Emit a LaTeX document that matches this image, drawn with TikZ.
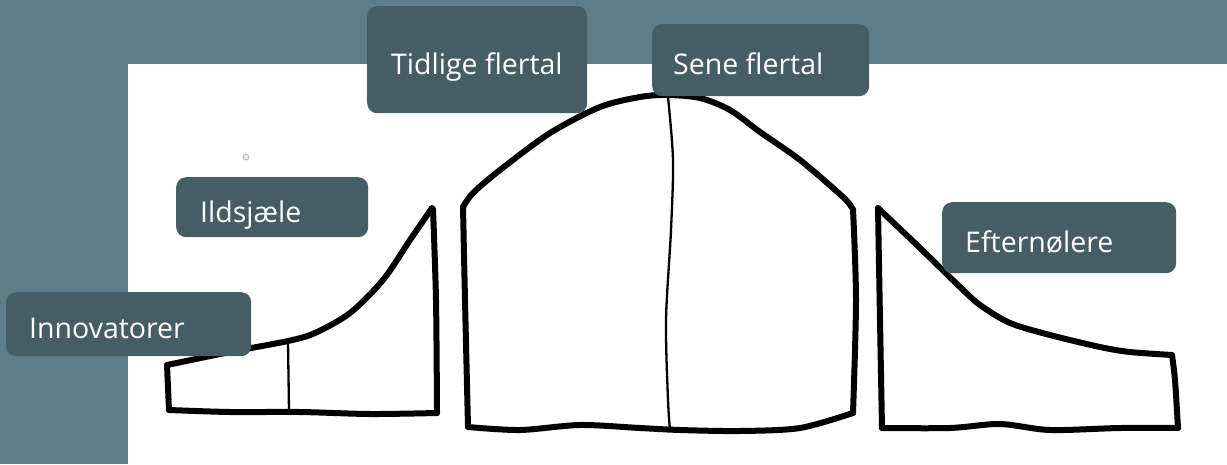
\documentclass[tikz,border=0pt]{standalone}
\usepackage{fontspec}
\setmainfont{Open Sans}
\definecolor{bgteal}{HTML}{5E7D88}
\definecolor{boxslate}{HTML}{455E66}
\tikzset{
  curve/.style={line width=6pt, line cap=round, line join=round, black},
  divider/.style={line width=2.3pt, line cap=round, black},
  lbl/.style={fill=boxslate, rounded corners=10pt, anchor=north west,
    inner sep=0pt},
  lbltext/.style={anchor=base west, text=white, inner sep=0pt,
    font=\fontsize{28.5}{32}\selectfont},
}
\begin{document}
\begin{tikzpicture}[x=1pt,y=-1pt]
\useasboundingbox (0,0) rectangle (1227,464);
\fill[bgteal] (0,0) rectangle (1227,464);
\fill[white] (128,64) rectangle (1227,464);
\draw[gray!60, line width=0.8pt, fill=gray!15] (246,157) circle (3);
% left shape
\draw[curve] plot[smooth] coordinates {(432,208) (410,240) (383,280) (350,313) (315,333) (288,341) (230,352) (167,365)};
\draw[curve] (167,365) -- (169,410);
\draw[curve] plot[smooth] coordinates {(169,410) (230,412) (300,412) (370,414) (437,413)};
\draw[curve] plot[smooth] coordinates {(437,413) (436,300) (433,209)};
\draw[divider] (288,341) -- (289,411);
% middle shape
\draw[curve] plot[smooth] coordinates {(463,207) (473,193) (500,170) (550,133) (600,107) (640,97) (667,95) (700,98) (730,110) (760,132) (800,160) (843,197) (852,208)};
\draw[curve] plot[smooth] coordinates {(463,207) (465,300) (468,427)};
\draw[curve] plot[smooth] coordinates {(468,427) (520,430) (580,425) (640,428) (680,430) (740,431) (800,428) (853,413)};
\draw[curve] plot[smooth] coordinates {(853,413) (856,300) (853,209)};
\draw[divider] plot[smooth] coordinates {(668,97) (673,160) (671,230) (666,320) (668,400) (670,430)};
% right shape
\draw[curve] plot[smooth] coordinates {(878,208) (880,320) (882,428)};
\draw[curve] plot[smooth] coordinates {(882,428) (950,428) (1000,424) (1050,430) (1120,428) (1178,428)};
\draw[curve] plot[smooth] coordinates {(1178,428) (1175,380) (1172,355)};
\draw[curve] plot[smooth] coordinates {(1172,355) (1130,352) (1100,347) (1050,335) (1010,323) (980,305) (960,287) (920,248) (878,208)};
% labels
\node[lbl, minimum width=220pt, minimum height=107pt] (tidlige) at (367,6) {};
\node[lbltext] (tidligeT) at (391,74) {Tidlige flertal};
\node[lbl, minimum width=217pt, minimum height=72pt] (sene) at (652,24) {};
\node[lbltext] (seneT) at (673,74) {Sene flertal};
\node[lbl, minimum width=192pt, minimum height=60pt] (ild) at (176,177) {};
\node[lbltext] (ildT) at (200,222) {Ildsjæle};
\node[lbl, minimum width=245pt, minimum height=64pt] (innov) at (6,292) {};
\node[lbltext] (innovT) at (29,338) {Innovatorer};
\node[lbl, minimum width=234pt, minimum height=71pt] (eft) at (942,202) {};
\node[lbltext] (eftT) at (965,252) {Efternølere};
\end{tikzpicture}
\end{document}
